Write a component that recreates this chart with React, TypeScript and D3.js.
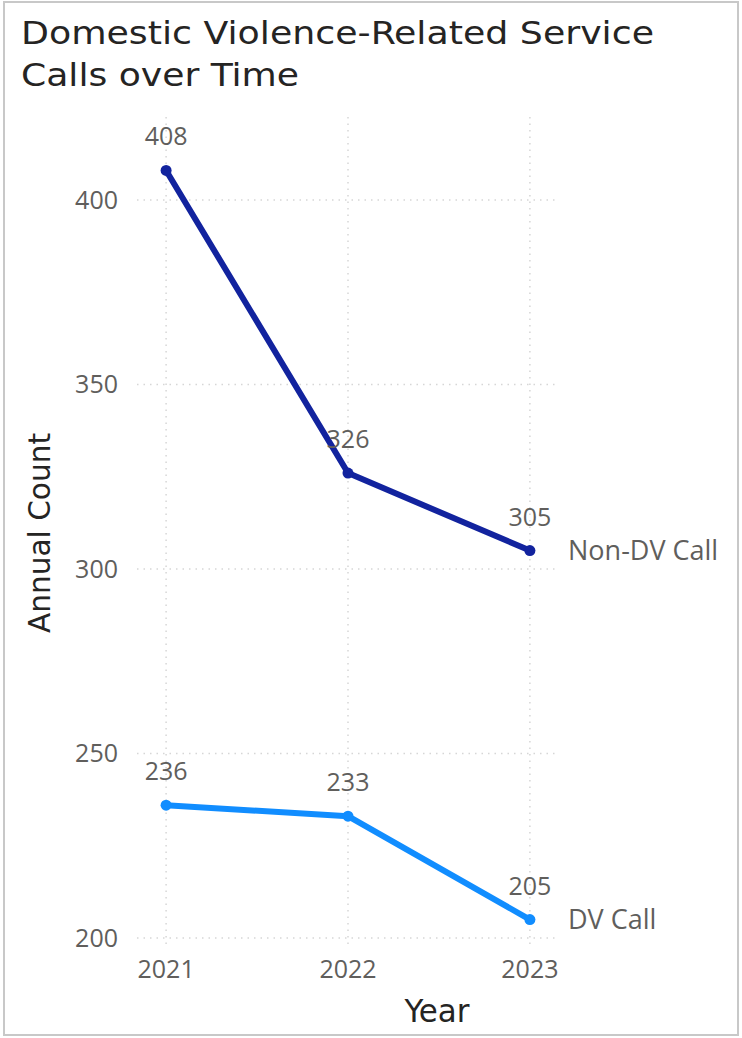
import React from "react";
import * as d3 from "d3";

const years = ["2021", "2022", "2023"];
const nonDV = [408, 326, 305];
const dv = [236, 233, 205];
const yTicks = [200, 250, 300, 350, 400];
const seriesNames = ["Non-DV Call", "DV Call"];
const seriesColors = ["#12239E", "#118DFF"];
const titleLines = ["Domestic Violence-Related Service", "Calls over Time"];

const W = 742;
const H = 1038;

export default function App() {
  const x = d3.scalePoint<string>().domain(years).range([137, 559]).padding(0.16);
  const y = d3.scaleLinear().domain([200, 400]).range([938, 200]);
  const line = d3
    .line<number>()
    .x((_, i) => x(years[i]) as number)
    .y((d) => y(d));
  const series = [nonDV, dv];
  const tickFont = "'Open Sans', 'Segoe UI', sans-serif";
  const dinFont = "'Liberation Sans Narrow', 'DejaVu Sans Condensed', 'DejaVu Sans', sans-serif";
  const gray = "#605E5C";
  const gridTop = 117;
  const gridBottom = 946;
  const xL = x.range()[0];
  const xR = x.range()[1];

  return (
    <svg
      width={W}
      height={H}
      style={{ position: "absolute", left: 0, top: 0, background: "#fff" }}
    >
      <rect x={4} y={2} width={734} height={1033} fill="#fff" stroke="#c8c8c8" strokeWidth={2} />
      {titleLines.map((t, i) => (
        <text
          key={t}
          x={21}
          y={44 + i * 42}
          fontFamily={dinFont}
          fontSize={32}
          fill="#252423"
          textLength={i === 0 ? 633 : 278}
          lengthAdjust="spacingAndGlyphs"
        >
          {t}
        </text>
      ))}
      {yTicks.map((t) => (
        <line
          key={"g" + t}
          x1={xL}
          x2={xR}
          y1={y(t)}
          y2={y(t)}
          stroke="#d6d6d6"
          strokeWidth={1.5}
          strokeDasharray="1.5 5"
        />
      ))}
      {years.map((yr) => (
        <line
          key={"v" + yr}
          x1={x(yr)}
          x2={x(yr)}
          y1={gridTop}
          y2={gridBottom}
          stroke="#d6d6d6"
          strokeWidth={1.5}
          strokeDasharray="1.5 5"
        />
      ))}
      {yTicks.map((t) => (
        <text
          key={"yt" + t}
          x={118}
          y={y(t)}
          dy="0.35em"
          textAnchor="end"
          fontFamily={tickFont}
          fontSize={25}
          fill={gray}
        >
          {t}
        </text>
      ))}
      {years.map((yr) => (
        <text
          key={"xt" + yr}
          x={x(yr)}
          y={978}
          textAnchor="middle"
          fontFamily={tickFont}
          fontSize={25}
          fill={gray}
        >
          {yr}
        </text>
      ))}
      <text
        transform={`translate(50,533) rotate(-90)`}
        textAnchor="middle"
        fontFamily={dinFont}
        fontSize={30}
        fill="#252423"
        textLength={200}
        lengthAdjust="spacingAndGlyphs"
      >
        Annual Count
      </text>
      <text
        x={437}
        y={1022}
        textAnchor="middle"
        fontFamily={dinFont}
        fontSize={32}
        fill="#252423"
        textLength={65}
        lengthAdjust="spacingAndGlyphs"
      >
        Year
      </text>
      {series.map((s, si) => (
        <g key={"s" + si}>
          <path
            d={line(s) || ""}
            fill="none"
            stroke={seriesColors[si]}
            strokeWidth={6}
            strokeLinejoin="round"
          />
          {s.map((v, i) => (
            <circle key={i} cx={x(years[i])} cy={y(v)} r={5.5} fill={seriesColors[si]} />
          ))}
          {s.map((v, i) => (
            <text
              key={"l" + i}
              x={x(years[i])}
              y={y(v) - 25}
              textAnchor="middle"
              fontFamily={tickFont}
              fontSize={25}
              fill={gray}
            >
              {v}
            </text>
          ))}
          <text
            x={568}
            y={y(s[s.length - 1])}
            dy="0.35em"
            fontFamily={tickFont}
            fontSize={27}
            fill={gray}
          >
            {seriesNames[si]}
          </text>
        </g>
      ))}
    </svg>
  );
}
